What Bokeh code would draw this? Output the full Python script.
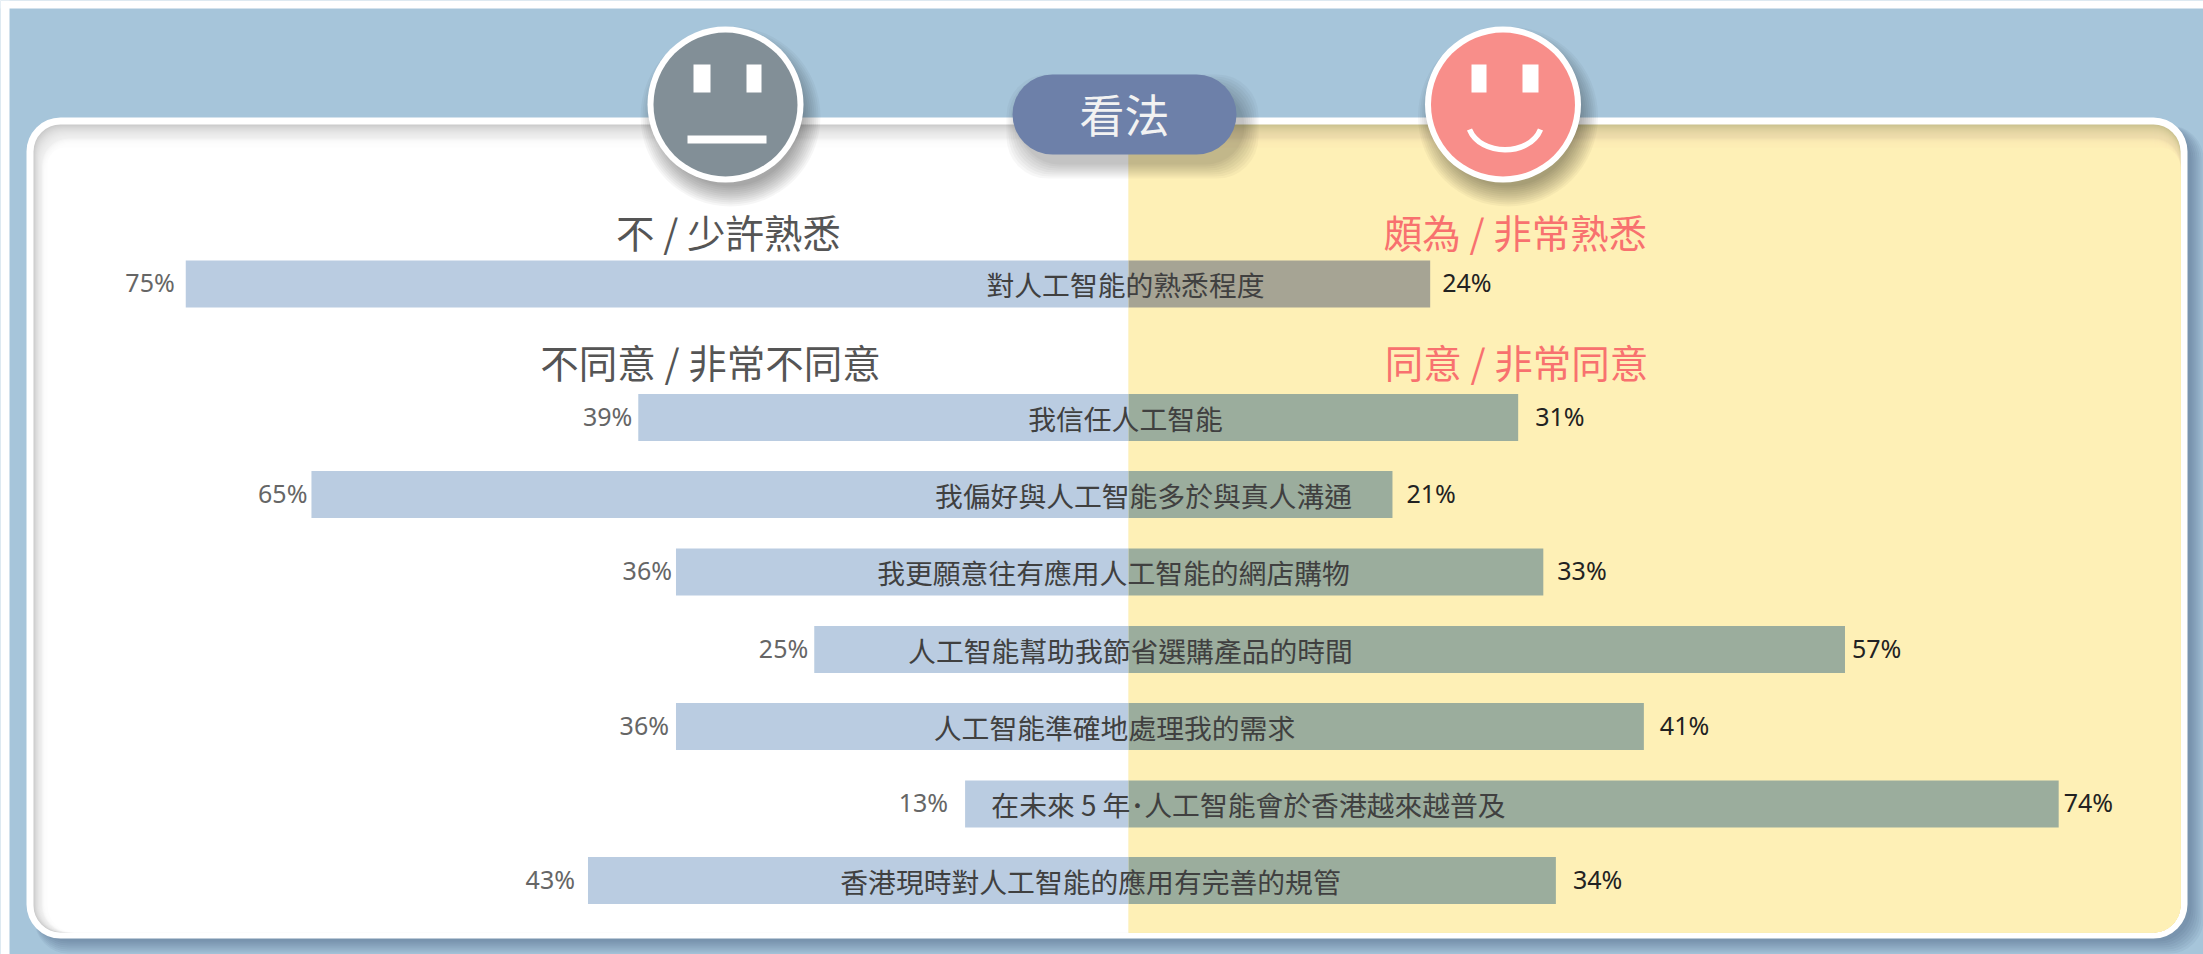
from bokeh.plotting import figure
from bokeh.models import Range1d, ColumnDataSource
from bokeh.core.properties import value
from bokeh.embed import file_html
from bokeh.resources import INLINE

# ---- data ----
familiarity_label = ["對人工智能的熟悉程度"]
familiarity_low = [75]
familiarity_high = [24]
statements = ["我信任人工智能", "我偏好與人工智能多於與真人溝通", "我更願意往有應用人工智能的網店購物",
              "人工智能幫助我節省選購產品的時間", "人工智能準確地處理我的需求",
              "在未來 5 年･人工智能會於香港越來越普及", "香港現時對人工智能的應用有完善的規管"]
disagree = [39, 65, 36, 25, 36, 13, 43]
agree = [31, 21, 33, 57, 41, 74, 34]
title = "看法"
head_low_1, head_high_1 = "不 / 少許熟悉", "頗為 / 非常熟悉"
head_low_2, head_high_2 = "不同意 / 非常不同意", "同意 / 非常同意"

# ---- layout (page pixels) ----
W, H = 2203, 954
CX = 1128          # zero line
UNIT = 12.57       # pixels per percentage point
row_y = [417, 494, 571.5, 649, 726, 803.5, 880]
first_y = 283.5
bar_h = 47
label_cx = [1125, 1143, 1113, 1130, 1114, 1248, 1090]
first_label_cx = 1125
left_gap = [6, 4, 4, 6, 7, 17, 13]
right_gap = [17, 14, 14, 7, 16, 5, 17]
first_left_gap, first_right_gap = 11, 12

CJK = value("Noto Sans CJK TC")
BLUE = "#BACCE1"
YELLOW = "#FEF0B6"

p = figure(width=W, height=H, output_backend="svg", toolbar_location=None,
           x_range=Range1d(-CX / UNIT, (W - CX) / UNIT),
           y_range=Range1d(H, 0),
           x_axis_location=None, y_axis_location=None,
           min_border=0, background_fill_color="#A6C5DA", border_fill_color="#A6C5DA",
           outline_line_color=None)
p.grid.visible = False
p.extra_x_ranges = {"px": Range1d(0, W)}
PX = dict(x_range_name="px")


def rbox(l, r, t, b, color, radius=0, alpha=1.0):
    p.quad(left=[l], right=[r], top=[t], bottom=[b], fill_color=color, fill_alpha=alpha,
           line_color=None, border_radius=radius, **PX)


# white page margin of the reference
rbox(0, W, 0, 8, "#FFFFFF")
rbox(0, 9, 0, H, "#FFFFFF")

# panel outer shadow
for d in range(0, 13, 2):
    rbox(34, 2191 + d, 125, 941 + d, "#1c3a55", 34, 0.055)
# panel
rbox(26, 2187, 117, 938, "#FFFFFF", 34)
# inner shadow built from layers, white on the left half and yellow on the right half
rbox(33, CX, 124, 932, "#CBCBCB", (27, 0, 0, 27))
rbox(CX, 2180, 124, 932, "#CBC290", (0, 27, 27, 0))
for i in range(1, 23):
    a = 0.1 if i < 14 else 0.3
    rbox(33 + 0.6 * i, CX, 124 + i, 932, "#FFFFFF", (27, 0, 0, 27), a)
    rbox(CX, 2180, 124 + i, 932, YELLOW, (0, 27, 27, 0), a)
rbox(47, CX, 147, 932, "#FFFFFF", (18, 0, 0, 27))
rbox(CX, 2180, 147, 932, YELLOW, (0, 20, 27, 0))


def face(cx, cy, fill):
    for d in range(20, -1, -2):
        p.circle(x=[cx + 5], y=[cy + 12], radius=[70 + d], fill_color="#000000", fill_alpha=0.035,
                 line_color=None, **PX)
    p.circle(x=[cx], y=[cy], radius=[78], fill_color="#FFFFFF", line_color=None, **PX)
    p.circle(x=[cx], y=[cy], radius=[72], fill_color=fill, line_color=None, **PX)


# neutral face
face(725, 104, "#828F97")
rbox(693, 710, 64, 92, "#FFFFFF")
rbox(746, 761, 64, 92, "#FFFFFF")
rbox(687, 766, 135, 143, "#FFFFFF")
# happy face
face(1502.5, 104, "#F88E8A")
rbox(1471, 1486, 64, 92, "#FFFFFF")
rbox(1522, 1538, 64, 92, "#FFFFFF")
p.bezier(x0=[1469], y0=[129], x1=[1540], y1=[129], cx0=[1480], cy0=[156], cx1=[1529], cy1=[156],
         line_color="#FFFFFF", line_width=5.5, **PX)

# title pill
for d in range(14, -1, -2):
    rbox(1020 - d, 1244 + d, 88 - d, 164 + d, "#000000", 41, 0.03)
rbox(1012, 1236, 74, 154, "#6D80A9", 40)
p.text(x=[1124], y=[113], text=[title], text_color="#F2F2F2", text_font=CJK, text_font_size="45px",
       text_align="center", text_baseline="middle", **PX)

# headers
for tx, ty, txt, col in [(728, 230, head_low_1, "#555555"), (1515, 230, head_high_1, "#F8716F"),
                         (710, 360, head_low_2, "#555555"), (1516, 360, head_high_2, "#F8716F")]:
    p.text(x=[tx], y=[ty], text=[txt], text_color=col, text_font=CJK, text_font_size="38.5px",
           text_align="center", text_baseline="middle", **PX)

# bars drawn from the data
first = ColumnDataSource(dict(y=[first_y], low=[-v for v in familiarity_low], high=familiarity_high,
                              zero=[0]))
rows = ColumnDataSource(dict(y=row_y, low=[-v for v in disagree], high=agree, zero=[0] * len(agree)))
for src, mix in ((first, "#A6A494"), (rows, "#9BAD9D")):
    p.hbar(y="y", left="low", right="zero", height=bar_h, fill_color=BLUE, line_color=None, source=src)
    p.hbar(y="y", left="zero", right="high", height=bar_h, fill_color=mix, line_color=None, source=src)

# statement labels
p.text(x=[first_label_cx] + label_cx, y=[first_y] + row_y,
       text=familiarity_label + statements, text_color="#404040", text_font=CJK,
       text_font_size="27.8px", text_align="center", text_baseline="middle", **PX)

# percent labels
pct = dict(text_font=value("Noto Sans"), text_font_size="25px", text_baseline="middle")
for y, v, g in zip([first_y] + row_y, familiarity_low + disagree, [first_left_gap] + left_gap):
    p.text(x=[-v], y=[y - 2], text=[f"{v}%"], x_offset=-g, text_align="right", text_color="#666666", **pct)
for y, v, g in zip([first_y] + row_y, familiarity_high + agree, [first_right_gap] + right_gap):
    p.text(x=[v], y=[y - 2], text=[f"{v}%"], x_offset=g, text_align="left", text_color="#222222", **pct)

open("out.html", "w").write(file_html(p, INLINE))
